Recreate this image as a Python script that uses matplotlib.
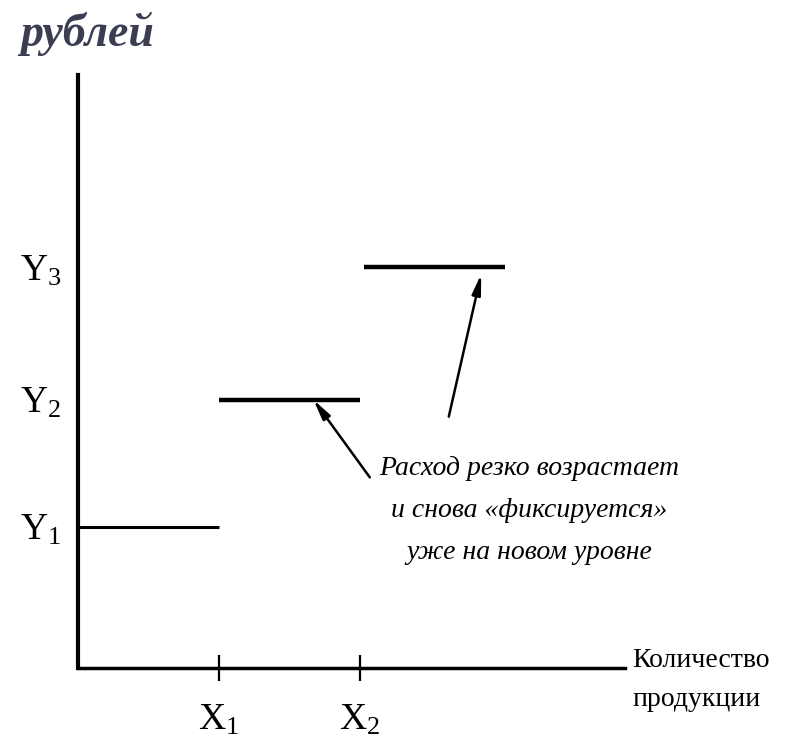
import matplotlib.pyplot as plt
import numpy as np

plt.rcParams['font.family'] = ['Liberation Serif', 'DejaVu Serif']
plt.rcParams['mathtext.fontset'] = 'custom'
plt.rcParams['mathtext.rm'] = 'Liberation Serif'
plt.rcParams['mathtext.it'] = 'Liberation Serif:italic'

# step levels of the fixed cost
x_start = [0.0, 1.0, 2.03]
x_end = [1.0, 2.0, 3.03]
levels = [1.0, 1.9, 2.84]
y_labels = [r'$\mathrm{Y}_1$', r'$\mathrm{Y}_2$', r'$\mathrm{Y}_3$']
x_ticks = [1.0, 2.0]
x_labels = [r'$\mathrm{X}_1$', r'$\mathrm{X}_2$']
note = 'Расход резко возрастает\nи снова «фиксируется»\nуже на новом уровне'

fig = plt.figure(figsize=(7.86, 7.53), dpi=100)
W, H = 786, 753
ax = fig.add_axes([78 / W, (H - 668) / H, (625 - 78) / W, (668 - 75) / H])
ax.set_xlim(0, 3.88)
ax.set_ylim(0, 4.2)

for s in ['top', 'right']:
    ax.spines[s].set_visible(False)
ax.spines['left'].set_linewidth(3)
ax.spines['bottom'].set_linewidth(2.5)

# steps
ax.hlines(levels, x_start, x_end, colors='black', linewidths=[2.2, 3.2, 3.2])

# ticks
ax.set_xticks(x_ticks, labels=x_labels)
ax.tick_params(axis='x', direction='inout', length=19, width=1.6, pad=16, labelsize=27)
ax.set_yticks(levels, labels=y_labels)
ax.tick_params(axis='y', length=0, pad=12, labelsize=27)

# arrows
ap = dict(arrowstyle='-|>,head_length=1.2,head_width=0.26', lw=1.8, color='black', shrinkA=0, shrinkB=0)
ax.annotate('', xy=(1.67, levels[1]), xytext=(2.07, 1.35), arrowprops=ap)
ax.annotate('', xy=(2.86, levels[2] - 0.05), xytext=(2.63, 1.78), arrowprops=ap)

ax.text(3.2, 1.5, note, ha='center', va='top', fontsize=20, style='italic', linespacing=1.9, clip_on=False)

fig.text(632 / W, 1 - 648 / H, 'Количество\nпродукции', ha='left', va='top', fontsize=20, linespacing=1.75)
fig.text(20 / W, 1 - 12 / H, 'рублей', ha='left', va='top', fontsize=33, fontweight='bold', style='italic', color='#3b3d52')

plt.savefig('out.png', dpi=100)
